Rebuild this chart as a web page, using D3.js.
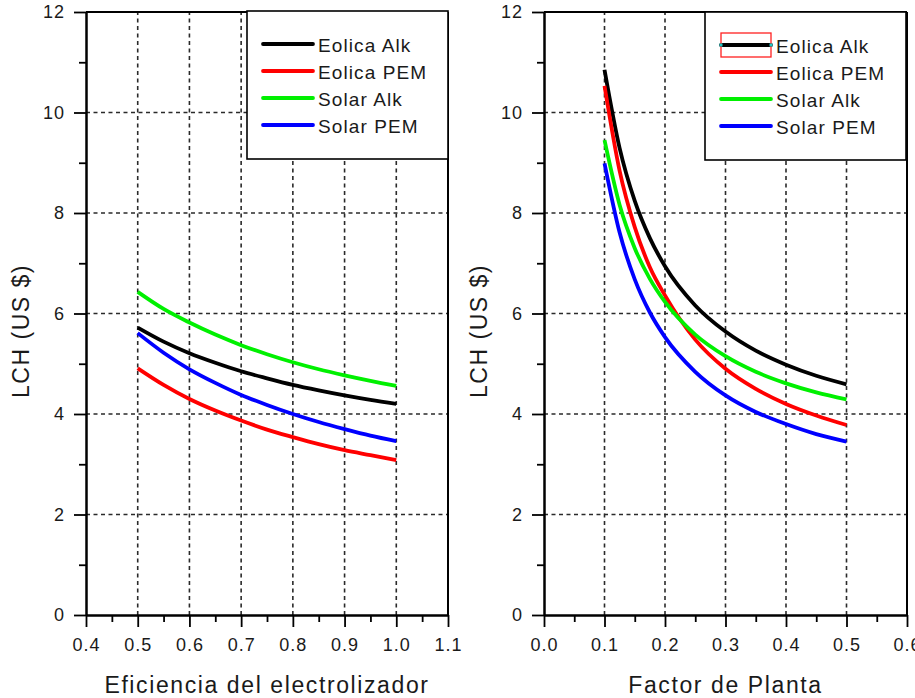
<!DOCTYPE html>
<html>
<head>
<meta charset="utf-8">
<script src="https://cdn.jsdelivr.net/npm/d3@7"></script>
<style>
  body { margin: 0; background: #fff; }
  svg { display: block; }
  text { font-family: "Liberation Sans", Arial, sans-serif; fill: #1a1a1a; }
</style>
</head>
<body>
<svg id="chart" width="915" height="698"></svg>
<script>
// Series shared by both panels
const seriesNames = ["Eolica Alk", "Eolica PEM", "Solar Alk", "Solar PEM"];
const seriesColors = ["#000000", "#ff0000", "#00f000", "#0000ff"];

// Left panel: LCH vs electrolyser efficiency
const efficiency = [0.5, 0.55, 0.6, 0.65, 0.7, 0.75, 0.8, 0.85, 0.9, 0.95, 1.0];
const effEolicaAlk = [5.72, 5.44, 5.21, 5.02, 4.85, 4.71, 4.58, 4.47, 4.37, 4.28, 4.20];
const effEolicaPEM = [4.91, 4.58, 4.30, 4.07, 3.87, 3.69, 3.54, 3.40, 3.28, 3.18, 3.08];
const effSolarAlk  = [6.43, 6.09, 5.82, 5.58, 5.37, 5.19, 5.03, 4.89, 4.77, 4.66, 4.56];
const effSolarPEM  = [5.61, 5.22, 4.89, 4.62, 4.38, 4.18, 4.00, 3.84, 3.70, 3.57, 3.46];

// Right panel: LCH vs plant capacity factor
const plantFactor = [0.1, 0.125, 0.15, 0.175, 0.2, 0.25, 0.3, 0.35, 0.4, 0.45, 0.5];
const pfEolicaAlk = [10.85, 9.29, 8.24, 7.50, 6.94, 6.16, 5.64, 5.26, 4.98, 4.76, 4.59];
const pfEolicaPEM = [10.53, 8.84, 7.72, 6.92, 6.36, 5.48, 4.90, 4.50, 4.20, 3.97, 3.78];
const pfSolarAlk  = [9.45, 8.16, 7.30, 6.69, 6.23, 5.58, 5.15, 4.84, 4.61, 4.43, 4.29];
const pfSolarPEM  = [8.99, 7.61, 6.68, 6.02, 5.53, 4.84, 4.37, 4.04, 3.80, 3.60, 3.45];

// Tick values
const yTicks = [0, 2, 4, 6, 8, 10, 12];
const yMinorTicks = [1, 3, 5, 7, 9, 11];
const effTicks = [0.4, 0.5, 0.6, 0.7, 0.8, 0.9, 1.0, 1.1];
const effMinorTicks = [0.45, 0.55, 0.65, 0.75, 0.85, 0.95, 1.05];
const pfTicks = [0.0, 0.1, 0.2, 0.3, 0.4, 0.5, 0.6];
const pfMinorTicks = [0.05, 0.15, 0.25, 0.35, 0.45, 0.55];

const yLabel = "LCH (US $)";
const effLabel = "Eficiencia del electrolizador";
const pfLabel = "Factor de Planta";

const svg = d3.select("#chart");

function drawPanel(opt) {
  const x = d3.scaleLinear().domain(opt.xDomain).range([opt.left, opt.right]);
  const y = d3.scaleLinear().domain([0, 12]).range([615, 12]);
  const g = svg.append("g");

  // dashed grid
  const grid = g.append("g").attr("stroke", "#2a2a2a").attr("stroke-width", 1.6)
    .attr("stroke-dasharray", "4,3.5");
  grid.selectAll("line.v").data(opt.xTicks.slice(1, -1)).join("line")
    .attr("x1", d => x(d)).attr("x2", d => x(d))
    .attr("y1", y(0)).attr("y2", y(12));
  grid.selectAll("line.h").data(yTicks.slice(1, -1)).join("line")
    .attr("x1", x.range()[0]).attr("x2", x.range()[1])
    .attr("y1", d => y(d)).attr("y2", d => y(d));

  // frame: top and right edges
  g.append("line").attr("x1", x.range()[0]).attr("x2", x.range()[1])
    .attr("y1", y(12)).attr("y2", y(12)).attr("stroke", "#000").attr("stroke-width", 2);
  g.append("line").attr("x1", x.range()[1]).attr("x2", x.range()[1])
    .attr("y1", y(0)).attr("y2", y(12)).attr("stroke", "#000").attr("stroke-width", 2);

  // axes
  const fmtX = d3.format(".1f");
  g.append("g").attr("transform", `translate(0,${y(0)})`)
    .call(d3.axisBottom(x).tickValues(opt.xTicks).tickFormat(fmtX)
      .tickSize(12).tickSizeOuter(0).tickPadding(11));
  g.append("g").attr("transform", `translate(0,${y(0)})`)
    .call(d3.axisBottom(x).tickValues(opt.xMinor).tickFormat("")
      .tickSize(7).tickSizeOuter(0));
  g.append("g").attr("transform", `translate(${x.range()[0]},0)`)
    .call(d3.axisLeft(y).tickValues(yTicks).tickSize(12).tickSizeOuter(0).tickPadding(9));
  g.append("g").attr("transform", `translate(${x.range()[0]},0)`)
    .call(d3.axisLeft(y).tickValues(yMinorTicks).tickFormat("").tickSize(7).tickSizeOuter(0));

  g.selectAll(".domain").attr("stroke", "#000").attr("stroke-width", 2);
  g.selectAll(".tick line").attr("stroke", "#000").attr("stroke-width", 1.8);
  g.selectAll(".tick text").attr("font-size", 18).attr("letter-spacing", "1px")
    .attr("fill", "#1a1a1a").attr("font-family", '"Liberation Sans", Arial, sans-serif');

  // axis titles
  g.append("text").attr("x", (x.range()[0] + x.range()[1]) / 2).attr("y", 693)
    .attr("text-anchor", "middle").attr("font-size", 23).attr("letter-spacing", "1.6px")
    .text(opt.xLabel);
  g.append("text")
    .attr("transform", `translate(${opt.yLabelX},331) rotate(-90)`)
    .attr("text-anchor", "middle").attr("font-size", 23).attr("letter-spacing", "1.5px")
    .text(yLabel);

  // curves
  const line = d3.line().x(d => x(d[0])).y(d => y(d[1])).curve(d3.curveMonotoneX);
  opt.series.forEach((vals, i) => {
    g.append("path")
      .datum(opt.xs.map((xv, j) => [xv, vals[j]]))
      .attr("fill", "none").attr("stroke", seriesColors[i])
      .attr("stroke-width", 3.8).attr("d", line);
  });

  // legend
  const lg = g.append("g");
  lg.append("rect").attr("x", opt.legend.x).attr("y", opt.legend.y)
    .attr("width", 201).attr("height", 148)
    .attr("fill", "#fff").attr("stroke", "#000").attr("stroke-width", 1.6);
  seriesNames.forEach((name, i) => {
    const ry = opt.legend.y + 33 + i * 27;
    const lx = opt.legend.x + opt.legend.lineDx;
    lg.append("line").attr("x1", lx).attr("x2", lx + 50)
      .attr("y1", ry).attr("y2", ry)
      .attr("stroke", seriesColors[i]).attr("stroke-width", 3.8).attr("stroke-linecap", "round");
    lg.append("text").attr("x", lx + 55).attr("y", ry + 7.5)
      .attr("font-size", 19).attr("letter-spacing", "1.1px").text(name);
    if (opt.legend.selected && i === 0) {
      lg.append("rect").attr("x", lx).attr("y", ry - 12)
        .attr("width", 50).attr("height", 24)
        .attr("fill", "none").attr("stroke", "#ff2020").attr("stroke-width", 1.3);
      [lx, lx + 50].forEach(cx => {
        lg.append("rect").attr("x", cx - 1.5).attr("y", ry - 1.5)
          .attr("width", 3).attr("height", 3).attr("fill", "#20c8c8");
      });
    }
  });
}

drawPanel({
  xDomain: [0.4, 1.1], left: 86, right: 448,
  xTicks: effTicks, xMinor: effMinorTicks, xLabel: effLabel, yLabelX: 29,
  xs: efficiency,
  series: [effEolicaAlk, effEolicaPEM, effSolarAlk, effSolarPEM],
  legend: { x: 247, y: 11, lineDx: 16, selected: false }
});

drawPanel({
  xDomain: [0.0, 0.6], left: 544, right: 907,
  xTicks: pfTicks, xMinor: pfMinorTicks, xLabel: pfLabel, yLabelX: 487,
  xs: plantFactor,
  series: [pfEolicaAlk, pfEolicaPEM, pfSolarAlk, pfSolarPEM],
  legend: { x: 705, y: 12, lineDx: 16, selected: true }
});
</script>
</body>
</html>
